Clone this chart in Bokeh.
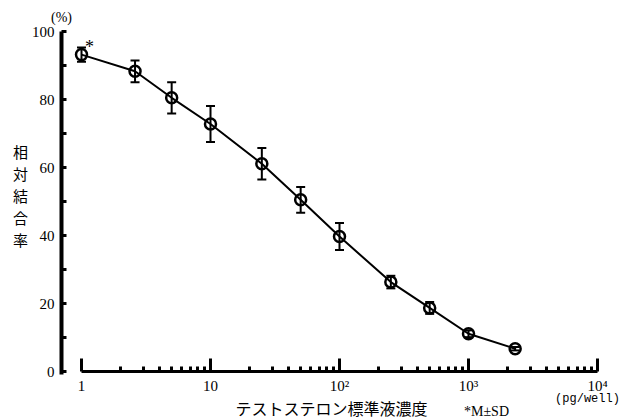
from bokeh.plotting import figure
from bokeh.models import Range1d, FixedTicker, Whisker, ColumnDataSource, Label, TeeHead
from bokeh.embed import file_html
from bokeh.resources import INLINE

# Data
conc = [1, 2.6, 5, 10, 25, 50, 100, 250, 500, 1000, 2300]          # pg/well
binding = [93.2, 88.3, 80.5, 72.8, 61.1, 50.5, 39.7, 26.3, 18.7, 11.1, 6.7]  # %
sd = [2.1, 3.2, 4.6, 5.3, 4.65, 3.8, 4.0, 1.85, 1.75, 1.0, 0.5]
y_ticks = [0, 20, 40, 60, 80, 100]
y_minor = [10, 30, 50, 70, 90]
x_ticks = [1, 10, 100, 1000, 10000]
x_tick_labels = ["1", "10", "10²", "10³", "10⁴"]
x_minor = [m * 10**k for k in range(4) for m in range(2, 10)]

SERIF = "Liberation Serif"
CJK = "Noto Sans CJK JP"

W, H = 626, 419
PX_PER_DEC = 129.0   # horizontal scale
PX_PER_PCT = 3.4     # vertical scale
X1_PX, Y0_PX = 81.0, 371.0   # where x=1 and y=0 sit


def lx(px):
    return 10 ** ((px - X1_PX) / PX_PER_DEC)


def ly(py):
    return (Y0_PX - py) / PX_PER_PCT


x_axis_at = lx(61)
p = figure(width=W, height=H, x_axis_type="log",
           x_range=Range1d(lx(0), lx(W)), y_range=Range1d(ly(H), ly(0)),
           output_backend="svg", toolbar_location=None,
           min_border=0)
p.outline_line_color = None
p.grid.visible = False
p.background_fill_color = "white"
p.border_fill_color = "white"

# y axis
ya = p.yaxis[0]
ya.fixed_location = x_axis_at
ya.ticker = FixedTicker(ticks=y_ticks, minor_ticks=y_minor)
ya.bounds = (-0.8, 100)
ya.axis_line_width = 4
ya.axis_line_color = "black"
ya.major_tick_in = 5
ya.major_tick_out = 0
ya.minor_tick_in = 5
ya.minor_tick_out = 0
ya.major_tick_line_width = 3
ya.minor_tick_line_width = 3
ya.major_label_text_font = SERIF
ya.major_label_text_font_size = "15px"
ya.major_label_text_color = "black"
ya.major_label_standoff = 7

# x axis
xa = p.xaxis[0]
xa.fixed_location = 0
xa.ticker = FixedTicker(ticks=x_ticks, minor_ticks=x_minor)
xa.bounds = (1, 10000)
xa.major_label_overrides = {t: lab for t, lab in zip(x_ticks, x_tick_labels)}
xa.axis_line_width = 3
xa.axis_line_color = "black"
xa.major_tick_in = 13
xa.major_tick_out = 0
xa.minor_tick_in = 5
xa.minor_tick_out = 0
xa.major_tick_line_width = 3
xa.minor_tick_line_width = 3
xa.major_label_text_font = SERIF
xa.major_label_text_font_size = "15px"
xa.major_label_text_color = "black"
xa.major_label_standoff = 6

# data
src = ColumnDataSource(dict(x=conc, y=binding,
                            upper=[b + s for b, s in zip(binding, sd)],
                            lower=[b - s for b, s in zip(binding, sd)]))
p.line("x", "y", source=src, line_width=2, line_color="black")
w = Whisker(source=src, base="x", upper="upper", lower="lower", dimension="height",
            line_width=2, line_color="black",
            upper_head=TeeHead(size=9, line_width=2, line_color="black"),
            lower_head=TeeHead(size=9, line_width=2, line_color="black"))
p.add_layout(w)
p.scatter("x", "y", source=src, size=11, marker="circle", fill_color=None,
          line_color="black", line_width=2.5)

# texts
p.add_layout(Label(x=x_axis_at, y=ly(17), text="(%)", text_align="center",
                   text_baseline="middle", text_font=SERIF, text_font_size="14px",
                   text_color="black"))
p.add_layout(Label(x=conc[0], y=ly(46), x_offset=8, text="*", text_align="center",
                   text_baseline="middle", text_font=SERIF, text_font_size="18px",
                   text_color="black"))
p.add_layout(Label(x=lx(20), y=ly(195), text="相\n対\n結\n合\n率",
                   text_align="center", text_baseline="middle", text_font=CJK,
                   text_font_size="15px", text_color="black", text_line_height=1.05))
p.add_layout(Label(x=lx(331), y=ly(407), text="テストステロン標準液濃度",
                   text_align="center", text_baseline="middle", text_font=CJK,
                   text_font_size="16px", text_color="black"))
p.add_layout(Label(x=lx(486), y=ly(411), text="*M±SD",
                   text_align="center", text_baseline="middle", text_font=SERIF,
                   text_font_size="14px", text_color="black"))
p.add_layout(Label(x=lx(587), y=ly(398), text="(pg/well)",
                   text_align="center", text_baseline="middle", text_font="Liberation Mono",
                   text_font_size="12px", text_color="black"))

open("out.html", "w").write(file_html(p, INLINE))
